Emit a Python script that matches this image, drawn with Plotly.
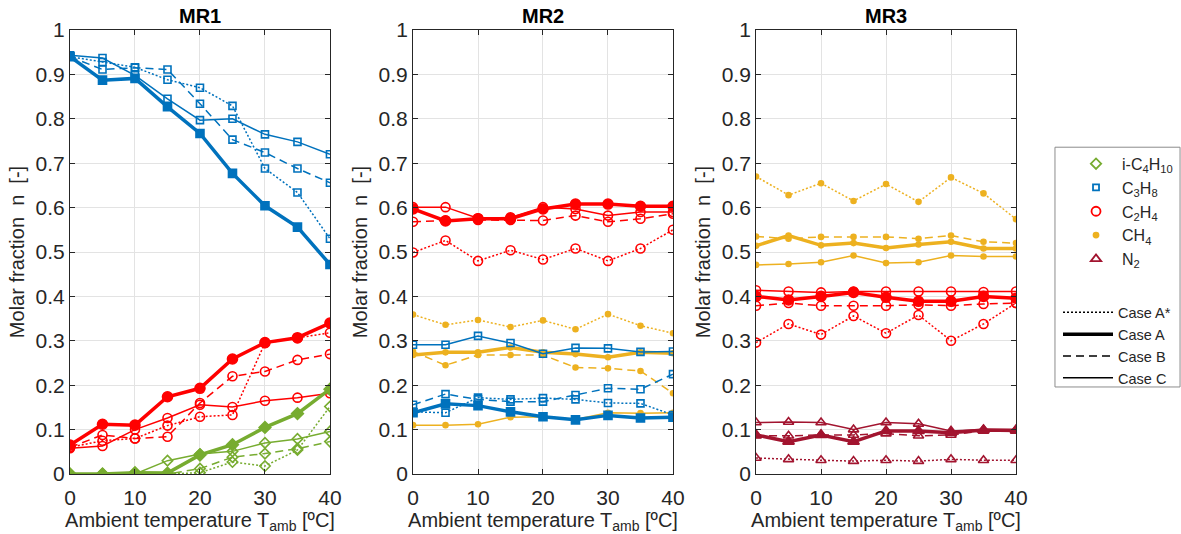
import plotly.graph_objects as go
from plotly.subplots import make_subplots

T = [0, 5, 10, 15, 20, 25, 30, 35, 40]

# ---- MR1 ----
MR1_C3H8_Astar = [0.940, 0.928, 0.916, 0.888, 0.870, 0.829, 0.688, 0.634, 0.530]
MR1_C3H8_A = [0.940, 0.887, 0.891, 0.827, 0.767, 0.677, 0.604, 0.556, 0.472]
MR1_C3H8_B = [0.940, 0.911, 0.915, 0.911, 0.834, 0.753, 0.724, 0.688, 0.656]
MR1_C3H8_C = [0.943, 0.937, 0.898, 0.845, 0.797, 0.800, 0.765, 0.748, 0.720]

MR1_C2H4_Astar = [0.060, 0.075, 0.080, 0.109, 0.129, 0.133, 0.295, 0.306, 0.318]
MR1_C2H4_A = [0.065, 0.112, 0.110, 0.174, 0.193, 0.259, 0.296, 0.307, 0.340]
MR1_C2H4_B = [0.060, 0.088, 0.080, 0.084, 0.160, 0.220, 0.231, 0.257, 0.270]
MR1_C2H4_C = [0.058, 0.063, 0.100, 0.126, 0.156, 0.151, 0.165, 0.172, 0.182]

MR1_iC4_Astar = [0.0, 0.0, 0.002, 0.0, 0.003, 0.027, 0.018, 0.054, 0.152]
MR1_iC4_A = [0.0, 0.0, 0.003, 0.002, 0.043, 0.066, 0.105, 0.136, 0.191]
MR1_iC4_B = [0.0, 0.0, 0.0, 0.0, 0.012, 0.038, 0.046, 0.057, 0.073]
MR1_iC4_C = [0.0, 0.0, 0.0, 0.030, 0.045, 0.051, 0.070, 0.079, 0.096]

# ---- MR2 ----
MR2_C2H4_Astar = [0.499, 0.526, 0.480, 0.504, 0.483, 0.508, 0.480, 0.508, 0.550]
MR2_C2H4_A = [0.597, 0.570, 0.575, 0.575, 0.597, 0.608, 0.608, 0.603, 0.603]
MR2_C2H4_B = [0.568, 0.571, 0.572, 0.572, 0.571, 0.582, 0.568, 0.575, 0.586]
MR2_C2H4_C = [0.601, 0.601, 0.576, 0.578, 0.601, 0.597, 0.582, 0.590, 0.590]

MR2_C3H8_Astar = [0.140, 0.138, 0.172, 0.168, 0.171, 0.168, 0.160, 0.159, 0.133]
MR2_C3H8_A = [0.138, 0.158, 0.154, 0.140, 0.129, 0.122, 0.132, 0.126, 0.128]
MR2_C3H8_B = [0.156, 0.180, 0.168, 0.163, 0.163, 0.178, 0.193, 0.191, 0.225]
MR2_C3H8_C = [0.291, 0.291, 0.311, 0.295, 0.271, 0.284, 0.283, 0.275, 0.276]

MR2_CH4_Astar = [0.359, 0.336, 0.347, 0.331, 0.346, 0.326, 0.360, 0.334, 0.317]
MR2_CH4_A = [0.268, 0.274, 0.274, 0.285, 0.274, 0.270, 0.263, 0.274, 0.272]
MR2_CH4_B = [0.276, 0.245, 0.268, 0.268, 0.268, 0.240, 0.238, 0.232, 0.182]
MR2_CH4_C = [0.110, 0.110, 0.112, 0.128, 0.129, 0.123, 0.138, 0.137, 0.138]

# ---- MR3 ----
MR3_CH4_Astar = [0.670, 0.628, 0.655, 0.615, 0.653, 0.613, 0.668, 0.632, 0.574]
MR3_CH4_A = [0.514, 0.537, 0.515, 0.520, 0.509, 0.517, 0.523, 0.508, 0.508]
MR3_CH4_B = [0.535, 0.530, 0.534, 0.534, 0.534, 0.530, 0.537, 0.523, 0.520]
MR3_CH4_C = [0.471, 0.473, 0.477, 0.492, 0.475, 0.477, 0.492, 0.490, 0.490]

MR3_C2H4_Astar = [0.296, 0.338, 0.314, 0.356, 0.317, 0.358, 0.300, 0.338, 0.385]
MR3_C2H4_A = [0.400, 0.392, 0.400, 0.409, 0.398, 0.389, 0.389, 0.400, 0.396]
MR3_C2H4_B = [0.379, 0.385, 0.379, 0.379, 0.379, 0.381, 0.379, 0.383, 0.385]
MR3_C2H4_C = [0.414, 0.411, 0.409, 0.411, 0.411, 0.411, 0.411, 0.410, 0.411]

MR3_N2_Astar = [0.036, 0.033, 0.031, 0.029, 0.031, 0.029, 0.033, 0.031, 0.031]
MR3_N2_A = [0.088, 0.073, 0.088, 0.073, 0.097, 0.097, 0.093, 0.099, 0.098]
MR3_N2_B = [0.086, 0.086, 0.088, 0.088, 0.091, 0.086, 0.088, 0.097, 0.097]
MR3_N2_C = [0.116, 0.117, 0.116, 0.100, 0.116, 0.113, 0.097, 0.100, 0.100]

PANEL_TITLES = ["MR1", "MR2", "MR3"]
CASE_NAMES = ["Case A*", "Case A", "Case B", "Case C"]
SPECIES_LABELS = ["i-C<sub>4</sub>H<sub>10</sub>", "C<sub>3</sub>H<sub>8</sub>",
                  "C<sub>2</sub>H<sub>4</sub>", "CH<sub>4</sub>", "N<sub>2</sub>"]
X_TICKS = [0, 10, 20, 30, 40]
Y_TICKS = [0, 0.1, 0.2, 0.3, 0.4, 0.5, 0.6, 0.7, 0.8, 0.9, 1]
Y_TICKTEXT = ["0", "0.1", "0.2", "0.3", "0.4", "0.5", "0.6", "0.7", "0.8", "0.9", "1"]

FONT = "Liberation Sans, Arial, sans-serif"
COL = {"iC4": "#77AC30", "C3H8": "#0072BD", "C2H4": "#FF0000", "CH4": "#EDB120", "N2": "#A2142F"}
SYM = {"iC4": "diamond", "C3H8": "square", "C2H4": "circle", "CH4": "circle", "N2": "triangle-up"}
MSIZE = {"iC4": 8, "C3H8": 7, "C2H4": 9, "CH4": 5, "N2": 9}
CASE_STYLE = {
    "Astar": dict(width=1.5, dash="2px,2px"),
    "A": dict(width=3.5, dash="solid"),
    "B": dict(width=1.5, dash="8px,5px"),
    "C": dict(width=1.5, dash="solid"),
}

panels = {
    1: {"C3H8": [MR1_C3H8_Astar, MR1_C3H8_A, MR1_C3H8_B, MR1_C3H8_C],
        "C2H4": [MR1_C2H4_Astar, MR1_C2H4_A, MR1_C2H4_B, MR1_C2H4_C],
        "iC4": [MR1_iC4_Astar, MR1_iC4_A, MR1_iC4_B, MR1_iC4_C]},
    2: {"CH4": [MR2_CH4_Astar, MR2_CH4_A, MR2_CH4_B, MR2_CH4_C],
        "C3H8": [MR2_C3H8_Astar, MR2_C3H8_A, MR2_C3H8_B, MR2_C3H8_C],
        "C2H4": [MR2_C2H4_Astar, MR2_C2H4_A, MR2_C2H4_B, MR2_C2H4_C]},
    3: {"CH4": [MR3_CH4_Astar, MR3_CH4_A, MR3_CH4_B, MR3_CH4_C],
        "C2H4": [MR3_C2H4_Astar, MR3_C2H4_A, MR3_C2H4_B, MR3_C2H4_C],
        "N2": [MR3_N2_Astar, MR3_N2_A, MR3_N2_B, MR3_N2_C]},
}

fig = make_subplots(rows=1, cols=3)

case_keys = ["Astar", "A", "B", "C"]
for col, spec in panels.items():
    for sp, series in spec.items():
        for ck, ys in zip(case_keys, series):
            filled = (ck == "A") or sp == "CH4"
            sym = SYM[sp] if filled else SYM[sp] + "-open"
            size = MSIZE[sp] + (1 if (ck == "A" and sp != "CH4") else 0)
            fig.add_trace(go.Scatter(
                x=T, y=ys, mode="lines+markers", showlegend=False,
                line=dict(color=COL[sp], **CASE_STYLE[ck]),
                marker=dict(symbol=sym, size=size, color=COL[sp],
                            line=dict(width=1.6, color=COL[sp])),
                hoverinfo="skip"), row=1, col=col)

# legend entries: species markers (legend) and line styles (legend2)
species_keys = ["iC4", "C3H8", "C2H4", "CH4", "N2"]
for sk, lab in zip(species_keys, SPECIES_LABELS):
    sym = SYM[sk] if sk == "CH4" else SYM[sk] + "-open"
    fig.add_trace(go.Scatter(
        x=[None], y=[None], mode="markers", name=lab, legend="legend",
        marker=dict(symbol=sym, size=MSIZE[sk] if sk != "C3H8" else 6, color=COL[sk],
                    line=dict(width=1.8, color=COL[sk]))), row=1, col=3)
for ck, name in zip(case_keys, CASE_NAMES):
    fig.add_trace(go.Scatter(
        x=[None], y=[None], mode="lines", name=name, legend="legend2",
        line=dict(color="black", **CASE_STYLE[ck])), row=1, col=3)

domains = [[0.0, 0.2748], [0.3626, 0.6374], [0.7252, 1.0]]
axcol = "#262626"
for i in range(3):
    fig.update_xaxes(
        domain=domains[i], range=[0, 40], tickvals=X_TICKS, automargin=False,
        ticks="inside", ticklen=5, tickcolor=axcol, showline=True, linecolor=axcol,
        linewidth=1, mirror="ticks", showgrid=True, gridcolor="#e3e3e3", zeroline=False,
        ticklabelstandoff=5,
        tickfont=dict(size=21, color=axcol, family=FONT),
        title=dict(text="Ambient temperature T<sub>amb</sub> [ºC]", standoff=5,
                   font=dict(size=20, color=axcol, family=FONT)),
        row=1, col=i + 1)
    fig.update_yaxes(
        range=[0, 1], tickvals=Y_TICKS, ticktext=Y_TICKTEXT, automargin=False,
        ticks="inside", ticklen=5, tickcolor=axcol, showline=True, linecolor=axcol,
        linewidth=1, mirror="ticks", showgrid=True, gridcolor="#e3e3e3", zeroline=False,
        tickfont=dict(size=21, color=axcol, family=FONT),
        title=dict(text="Molar fraction\u00a0\u00a0n\u00a0\u00a0[-]", standoff=5,
                   font=dict(size=20, color=axcol, family=FONT)),
        row=1, col=i + 1)
    fig.add_annotation(
        x=(domains[i][0] + domains[i][1]) / 2, y=1, xref="paper", yref="paper",
        xanchor="center", yanchor="bottom", yshift=1, showarrow=False,
        text="<b>%s</b>" % PANEL_TITLES[i],
        font=dict(size=20, color="black", family=FONT))

# legend frame
fig.add_shape(type="rect", xref="paper", yref="paper",
              x0=1.0412, x1=1.1734, y0=0.196, y1=0.736,
              line=dict(color="#8c8c8c", width=1), fillcolor="rgba(0,0,0,0)")

fig.update_layout(
    width=1181, height=534, autosize=False,
    margin=dict(l=70, r=165, t=30, b=60, autoexpand=False),
    paper_bgcolor="white", plot_bgcolor="white",
    font=dict(family=FONT, color=axcol),
    legend=dict(x=1.0571, y=0.737, xanchor="left", yanchor="top",
                borderwidth=0, bgcolor="rgba(0,0,0,0)",
                font=dict(size=16, color=axcol, family=FONT), itemwidth=42),
    legend2=dict(x=1.0444, y=0.40, xanchor="left", yanchor="top",
                 borderwidth=0, bgcolor="rgba(0,0,0,0)",
                 font=dict(size=14.5, color=axcol, family=FONT), itemwidth=50),
)

fig.write_html("out.html")
